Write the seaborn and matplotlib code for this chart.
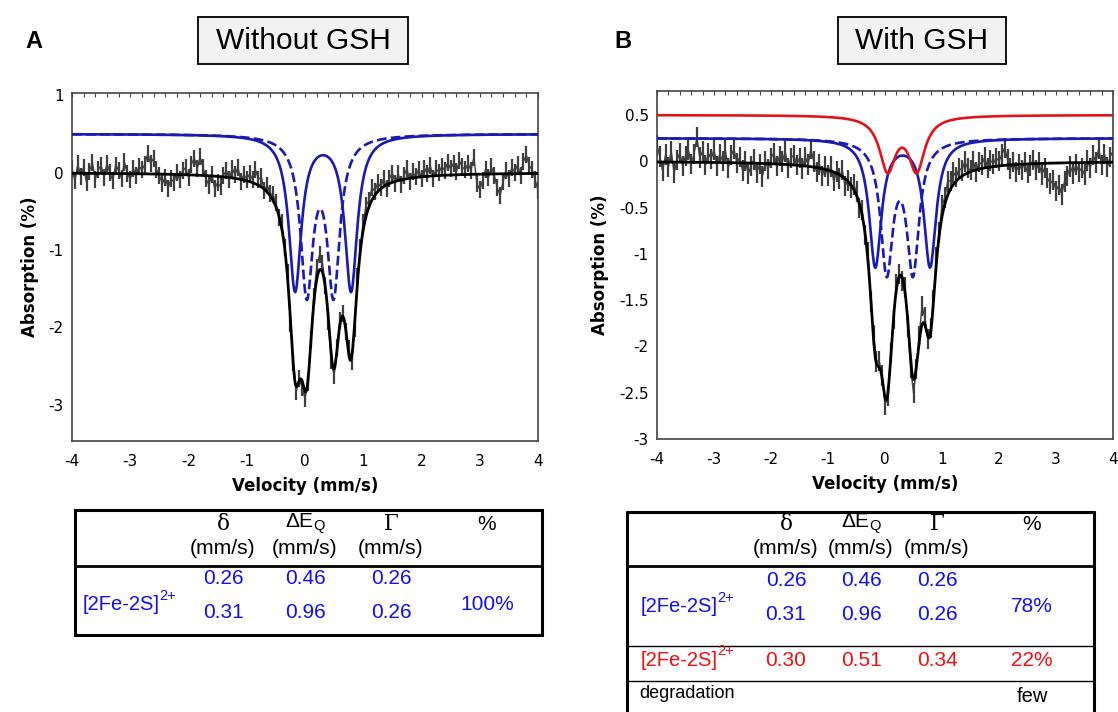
import numpy as np
import matplotlib
matplotlib.use("Agg")
import matplotlib.pyplot as plt
import seaborn as sns
from matplotlib.patches import Rectangle
from matplotlib.ticker import MultipleLocator, FuncFormatter

# fit parameters from the tables (mm/s)
delta_A = [0.26, 0.31]
deq_A = [0.46, 0.96]
gamma_A = [0.26, 0.26]
depth_A = [2.00, 2.01]      # line depth (%)
offset_A = [0.5, 0.5]       # vertical shift of the component curves
style_A = ["--", "-"]
pct_A = ["100%"]

delta_B = [0.26, 0.31, 0.30]
deq_B = [0.46, 0.96, 0.51]
gamma_B = [0.26, 0.26, 0.34]
depth_B = [1.40, 1.375, 0.573]
offset_B = [0.25, 0.25, 0.5]
style_B = ["--", "-", "-"]
pct_B = ["78%", "22%", "few"]

# residuals of the measured spectrum around the fit, every 0.05 mm/s from -4 to 4
resid_A = [0.06, -0.10, 0.12, -0.04, 0.08, -0.12, 0.03, 0.14, -0.08, 0.05,
           0.10, -0.05, 0.13, 0.01, -0.09, 0.11, 0.04, -0.06, 0.15, 0.00,
           -0.07, 0.07, -0.02, 0.10, 0.05, 0.12, 0.26, 0.14, 0.20, 0.06,
           -0.02, -0.12, -0.04, -0.18, -0.06, -0.10, 0.03, -0.07, 0.05, 0.09,
           -0.03, 0.14, 0.22, 0.08, 0.24, 0.10, -0.04, -0.12, 0.02, -0.16,
           -0.08, -0.13, 0.02, 0.09, -0.02, 0.12, 0.05, 0.15, -0.03, 0.07,
           0.02, 0.10, 0.04, 0.18, 0.08, 0.13, -0.02, 0.09, 0.03, 0.07,
           0.05, -0.03, 0.08, 0.00, 0.06, -0.05, 0.04, -0.06, 0.03, -0.08,
           -0.10, -0.02, 0.04, 0.10, 0.16, 0.20, 0.12, 0.03, -0.05, -0.09,
           -0.08, 0.02, 0.05, 0.04, -0.03, 0.06, -0.06, -0.04, 0.08, 0.05,
           0.10, 0.14, 0.08, 0.16, 0.05, 0.12, 0.02, 0.11, -0.04, 0.07,
           0.12, -0.03, 0.09, -0.06, 0.05, 0.13, -0.04, 0.08, 0.01, 0.10,
           -0.02, 0.11, 0.03, 0.14, -0.03, 0.09, 0.04, 0.12, 0.06, 0.16,
           0.08, 0.15, 0.04, 0.18, 0.10, 0.06, 0.14, 0.05, 0.22, -0.12,
           -0.20, -0.08, 0.06, -0.04, 0.09, -0.02, -0.18, -0.28, -0.10, 0.04,
           -0.06, 0.08, 0.02, 0.12, -0.03, 0.16, 0.24, 0.10, 0.05, -0.08, -0.22]

resid_B = [0.18, 0.06, -0.10, 0.08, -0.05, 0.12, -0.12, 0.02, 0.10, -0.04,
           0.07, 0.13, -0.02, 0.09, 0.27, 0.05, 0.12, -0.03, 0.10, 0.04,
           0.14, -0.04, 0.09, 0.02, 0.13, -0.06, 0.08, 0.15, 0.00, 0.06,
           -0.08, 0.02, -0.12, -0.03, 0.04, -0.10, -0.01, -0.14, 0.03, -0.06,
           0.06, 0.12, -0.02, 0.09, 0.03, 0.14, -0.04, 0.07, 0.11, 0.00,
           0.08, -0.03, 0.10, 0.02, 0.19, 0.06, -0.05, 0.04, -0.08, 0.03,
           -0.06, 0.05, -0.10, 0.02, -0.04, 0.07, -0.08, 0.01, -0.03, 0.05,
           0.04, -0.05, 0.06, -0.02, 0.08, -0.04, 0.05, 0.02, 0.07, 0.03,
           -0.08, -0.03, 0.05, -0.02, 0.06, 0.03, -0.04, 0.05, -0.06, -0.10,
           -0.14, -0.02, 0.06, 0.20, 0.08, -0.03, 0.05, 0.02, 0.08, 0.04,
           0.12, 0.07, 0.15, 0.09, 0.13, 0.04, 0.11, 0.06, 0.14, 0.05,
           0.02, 0.10, -0.02, 0.08, 0.04, 0.12, -0.01, 0.07, 0.03, 0.09,
           0.05, 0.12, 0.19, 0.06, -0.04, 0.03, -0.08, 0.00, -0.06, 0.02,
           -0.10, -0.02, 0.04, -0.07, 0.01, -0.12, -0.05, -0.16, -0.22, -0.18,
           -0.30, -0.24, -0.34, -0.20, -0.14, -0.04, -0.12, -0.02, -0.10, -0.06,
           -0.13, 0.02, -0.06, 0.08, 0.00, 0.15, -0.03, 0.09, -0.05, 0.06, 0.12]

BLUE = "#1a1ab4"
RED = "#e0141c"
TXT_BLUE = "#1010f0"
TXT_RED = "#f01010"


def doublet(v, d, q, g, a):
    hw = g / 2
    return a * (1 / (1 + ((v - (d - q / 2)) / hw) ** 2) +
                1 / (1 + ((v - (d + q / 2)) / hw) ** 2))


def draw_panel(ax, deltas, deqs, gammas, depths, offsets, styles, colors, resid, ylim, yticks):
    v = np.linspace(-4, 4, 801)
    comps = [doublet(v, d, q, g, a) for d, q, g, a in zip(deltas, deqs, gammas, depths)]
    fit = -np.sum(comps, axis=0)

    vd = np.linspace(-4, 4, len(resid))
    fit_d = -np.sum([doublet(vd, d, q, g, a) for d, q, g, a in zip(deltas, deqs, gammas, depths)], axis=0)
    obs = fit_d + np.array(resid)
    ax.errorbar(vd, obs, yerr=0.11, fmt="-", color="#3e3e3e", lw=1.0,
                elinewidth=1.6, capsize=0, zorder=1)

    sns.lineplot(x=v, y=fit, ax=ax, color="black", lw=2.0, zorder=3)
    for c, off, ls, col in zip(comps, offsets, styles, colors):
        sns.lineplot(x=v, y=off - c, ax=ax, color=col, lw=1.9, linestyle=ls, zorder=4)

    ax.set_xlim(-4, 4)
    ax.set_ylim(*ylim)
    ax.set_yticks(yticks)
    ax.xaxis.set_major_locator(MultipleLocator(1))
    ax.xaxis.set_minor_locator(MultipleLocator(0.2))
    fmt = FuncFormatter(lambda x, p: "%g" % x)
    ax.xaxis.set_major_formatter(fmt)
    ax.yaxis.set_major_formatter(fmt)
    ax.tick_params(axis="x", which="both", direction="in", top=True, length=3,
                   width=0.8, color="#444444", labelsize=11, pad=9)
    ax.tick_params(axis="y", length=0, labelsize=11, pad=6)
    for s in ax.spines.values():
        s.set_color("#444444")
        s.set_linewidth(1.2)
    ax.set_xlabel("Velocity (mm/s)", fontsize=12, fontweight="bold", labelpad=6)
    ax.set_ylabel("Absorption (%)", fontsize=12, fontweight="bold", labelpad=7)


sns.set_style("white")
plt.rcParams["font.family"] = ["DejaVu Sans"]
plt.rcParams["axes.unicode_minus"] = False
for k in ["text.color", "axes.labelcolor", "xtick.color", "ytick.color"]:
    plt.rcParams[k] = "black"

W, H = 1118, 712
fig = plt.figure(figsize=(W / 100, H / 100), dpi=100)

axA = fig.add_axes([72 / W, 1 - 441 / H, 466 / W, 348 / H])
draw_panel(axA, delta_A, deq_A, gamma_A, depth_A, offset_A, style_A, [BLUE, BLUE],
           resid_A, (-3.47, 1.03), [1, 0, -1, -2, -3])

axB = fig.add_axes([657 / W, 1 - 439 / H, 456 / W, 348 / H])
draw_panel(axB, delta_B, deq_B, gamma_B, depth_B, offset_B, style_B, [BLUE, BLUE, RED],
           resid_B, (-3.0, 0.76), [0.5, 0, -0.5, -1, -1.5, -2, -2.5, -3])

# overlay in pixel coordinates for panel titles and the parameter tables
ov = fig.add_axes([0, 0, 1, 1], zorder=-1)
ov.set_xlim(0, W)
ov.set_ylim(H, 0)
ov.axis("off")

SANS = "Liberation Sans"
SERIF = "DejaVu Serif"

ov.text(34, 41, "A", fontsize=17, fontweight="bold", ha="center", va="center", family=SANS)
ov.text(623, 41, "B", fontsize=17, fontweight="bold", ha="center", va="center", family=SANS)
for (x0, x1), title in zip([(198, 408), (838, 1006)], ["Without GSH", "With GSH"]):
    ov.add_patch(Rectangle((x0, 17), x1 - x0, 47, fc="#f2f2f2", ec="black", lw=1.3))
    ov.text((x0 + x1) / 2, 41, title, fontsize=21.5, ha="center", va="center", family=SANS)


def header(cols, ytop):
    xd, xq, xg, xp = cols
    ov.text(xd, ytop, "δ", fontsize=15.5, ha="center", va="center", family=SERIF)
    ov.text(xq, ytop, "ΔE$_{\\mathregular{Q}}$", fontsize=15, ha="center", va="center", family=SANS)
    ov.text(xg, ytop, "Γ", fontsize=15.5, ha="center", va="center", family=SERIF)
    ov.text(xp, ytop, "%", fontsize=15, ha="center", va="center", family=SANS)
    for x in (xd, xq, xg):
        ov.text(x, ytop + 25, "(mm/s)", fontsize=15.2, ha="center", va="center", family=SANS)


def row(cols, y, vals, color, fs=15):
    for x, val in zip(cols, vals):
        ov.text(x, y, "%.2f" % val, fontsize=fs, ha="center", va="center", color=color, family=SANS)


def site(x, y, color):
    t = ov.text(x, y, "[2Fe-2S]", fontsize=14.5, ha="left", va="center", color=color, family=SANS)
    ov.annotate("2+", xy=(1, 0.62), xycoords=t, xytext=(-0.5, 0), textcoords="offset points",
                fontsize=10.5, ha="left", va="bottom", color=color, family=SANS)


# table A
colsA = [223, 305, 391, 487]
ov.add_patch(Rectangle((75, 510), 467, 125, fc="none", ec="black", lw=2.2))
ov.plot([75, 542], [566, 566], color="black", lw=2.0)
header(colsA, 524)
for i in range(2):
    row(colsA[:3], [578, 612][i], [delta_A[i], deq_A[i], gamma_A[i]], TXT_BLUE)
site(83, 605, TXT_BLUE)
ov.text(colsA[3], 604, pct_A[0], fontsize=15, ha="center", va="center", color=TXT_BLUE, family=SANS)

# table B
colsB = [786, 861, 937, 1032]
ov.plot([627, 627], [512, H], color="black", lw=2.2)
ov.plot([1094, 1094], [512, H], color="black", lw=2.2)
ov.plot([627, 1094], [512, 512], color="black", lw=2.2)
ov.plot([627, 1094], [566, 566], color="black", lw=2.0)
ov.plot([627, 1094], [646, 646], color="black", lw=1.0)
ov.plot([627, 1094], [681, 681], color="black", lw=1.0)
header(colsB, 524)
for i in range(2):
    row(colsB[:3], [580, 614][i], [delta_B[i], deq_B[i], gamma_B[i]], TXT_BLUE)
site(641, 607, TXT_BLUE)
ov.text(colsB[3], 607, pct_B[0], fontsize=15, ha="center", va="center", color=TXT_BLUE, family=SANS)
row(colsB[:3], 660, [delta_B[2], deq_B[2], gamma_B[2]], TXT_RED)
site(641, 660, TXT_RED)
ov.text(colsB[3], 660, pct_B[1], fontsize=15, ha="center", va="center", color=TXT_RED, family=SANS)
ov.text(639, 693, "degradation", fontsize=13, ha="left", va="center", color="black", family=SANS)
ov.text(colsB[3], 696, pct_B[2], fontsize=14.5, ha="center", va="center", color="black", family=SANS)

fig.savefig("out.png", dpi=100)
